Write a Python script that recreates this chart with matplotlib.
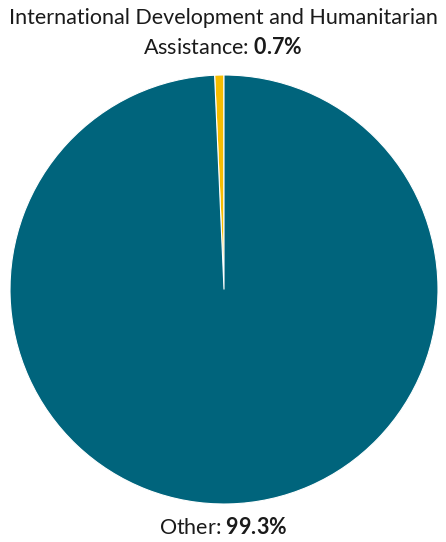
import matplotlib
matplotlib.use("Agg")
import matplotlib.pyplot as plt

# Share of spending
labels = ["International Development and Humanitarian Assistance", "Other"]
shares = [0.7, 99.3]
colors = ["#F7BD00", "#00647C"]

plt.rcParams['font.family'] = ['Lato', 'DejaVu Sans']
plt.rcParams['mathtext.fontset'] = 'custom'
plt.rcParams['mathtext.rm'] = 'Lato'
plt.rcParams['mathtext.bf'] = 'Lato:bold'

fig = plt.figure(figsize=(4.46, 5.42), dpi=100)
ax = fig.add_axes([10 / 446, 38 / 542, 428 / 446, 429 / 542])
ax.pie(shares, colors=colors, startangle=90, counterclock=True,
       wedgeprops={"edgecolor": "white", "linewidth": 0.8})
ax.set_xlim(-1, 1)
ax.set_ylim(-1, 1)
ax.set_aspect("auto")
ax.axis("off")

# Top label
fig.text(0.5, 1 - 18 / 542, "International Development and Humanitarian",
         ha="center", va="center", fontsize=15.5, color="#1a1a1a")
fig.text(0.5, 1 - 48 / 542, "Assistance: $\\bf{0.7\\%}$",
         ha="center", va="center", fontsize=15.5, color="#1a1a1a")

# Bottom label
fig.text(0.5, 1 - 528 / 542, "Other: $\\bf{99.3\\%}$",
         ha="center", va="center", fontsize=15.5, color="#1a1a1a")

fig.savefig("out.png", dpi=100)
